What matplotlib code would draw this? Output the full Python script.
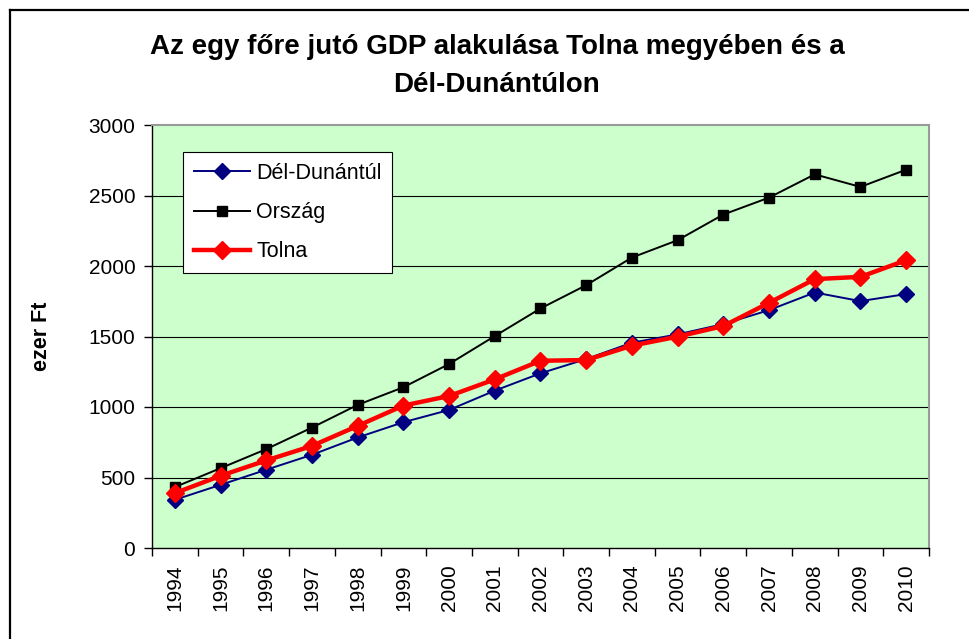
import matplotlib
matplotlib.use("Agg")
import matplotlib.pyplot as plt

years = [str(y) for y in range(1994, 2011)]
del_dunantul = [342, 448, 555, 661, 784, 892, 979, 1116, 1239, 1340, 1456, 1515, 1588, 1687, 1812, 1751, 1801]
orszag = [432, 566, 701, 854, 1015, 1140, 1305, 1503, 1699, 1864, 2060, 2183, 2365, 2485, 2650, 2561, 2683]
tolna = [389, 512, 621, 724, 866, 1010, 1078, 1196, 1328, 1333, 1435, 1499, 1574, 1739, 1907, 1923, 2041]
y_ticks = [0, 500, 1000, 1500, 2000, 2500, 3000]

plt.rcParams["font.family"] = ["Liberation Sans", "DejaVu Sans"]

W, H = 970, 639
fig = plt.figure(figsize=(W / 100, H / 100), dpi=100)
ax = fig.add_axes([152 / W, 1 - 548 / H, (929 - 152) / W, (548 - 125) / H])

# outer chart border (only top and left visible)
fig.add_artist(plt.Line2D([10 / W, 10 / W], [0, 1 - 10 / H], color="black", lw=1.6,
                          transform=fig.transFigure))
fig.add_artist(plt.Line2D([10 / W, 1], [1 - 10 / H, 1 - 10 / H], color="black", lw=1.6,
                          transform=fig.transFigure))

x = list(range(len(years)))
ax.set_facecolor("#CCFFCC")
for v in y_ticks[1:-1]:
    ax.axhline(v, color="black", lw=0.8, zorder=1)

ax.plot(x, del_dunantul, color="#000080", lw=1.4, marker="D", markersize=8.5,
        markerfacecolor="#000080", markeredgecolor="#000080", label="Dél-Dunántúl", zorder=3)
ax.plot(x, orszag, color="black", lw=1.4, marker="s", markersize=6.5,
        label="Ország", zorder=3)
ax.plot(x, tolna, color="#FF0000", lw=3.2, marker="D", markersize=9,
        markerfacecolor="#FF0000", markeredgecolor="#FF0000", label="Tolna", zorder=4)

ax.set_xlim(-0.5, len(years) - 0.5)
ax.set_ylim(0, 3000)
ax.set_yticks(y_ticks)
ax.set_yticklabels([str(v) for v in y_ticks], fontsize=15)
ax.set_xticks([i - 0.5 for i in range(len(years) + 1)])
ax.set_xticklabels([])
ax.set_xticks(x, minor=True)
ax.set_xticklabels(years, minor=True, rotation=90, fontsize=15)
ax.tick_params(axis="x", which="minor", length=0, pad=12)
ax.tick_params(axis="x", which="major", length=6, width=1)
ax.tick_params(axis="y", length=6, width=1, pad=6)

ax.spines["top"].set_color("#999999")
ax.spines["right"].set_color("#999999")
ax.spines["top"].set_linewidth(1.5)
ax.spines["right"].set_linewidth(1.5)
ax.spines["left"].set_linewidth(1)
ax.spines["bottom"].set_linewidth(1)

ax.set_ylabel("ezer Ft", fontsize=15.5, fontweight="bold", labelpad=26)

leg = ax.legend(loc="upper left", bbox_to_anchor=((183 - 152) / 777, 1 - (152 - 125) / 423),
                fontsize=15.5, frameon=True, fancybox=False, borderaxespad=0,
                handlelength=2.6, labelspacing=0.85, borderpad=0.5, handletextpad=0.3)
leg.get_frame().set_edgecolor("black")
leg.get_frame().set_linewidth(0.8)
leg.get_frame().set_facecolor("white")
leg.get_frame().set_alpha(1)

fig.text(497 / W, 1 - 66 / H, "Az egy főre jutó GDP alakulása Tolna megyében és a\nDél-Dunántúlon",
         ha="center", va="center", fontsize=20, fontweight="bold", linespacing=1.55)

fig.savefig("out.png", dpi=100)
